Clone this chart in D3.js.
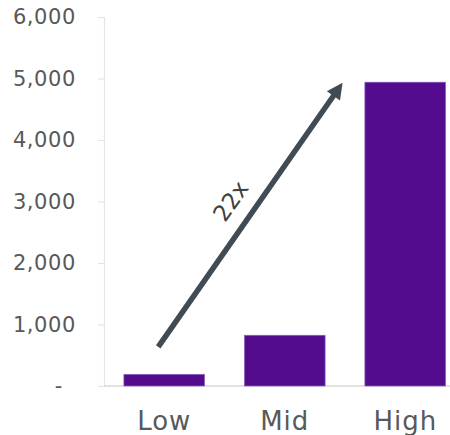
<!DOCTYPE html>
<html>
<head>
<meta charset="utf-8">
<script src="https://cdn.jsdelivr.net/npm/d3@7"></script>
<style>
  html, body { margin: 0; padding: 0; background: #fff; }
  svg { display: block; }
  text { font-family: "DejaVu Sans", sans-serif; }
</style>
</head>
<body>
<svg id="chart" width="450" height="435"></svg>
<script>
const categories = ["Low", "Mid", "High"];
const values = [190, 825, 4940];
const yTicks = [0, 1000, 2000, 3000, 4000, 5000, 6000];
const arrowIdx = [-0.05, 1.48];      // position in category units
const arrowVals = [635, 4930];       // arrow start / end on value axis
const arrowLabel = "22x";

const W = 450, H = 435;
const margin = { top: 17, left: 104, bottom: 49 };
const svg = d3.select("#chart");

const x = d3.scaleBand().domain(categories)
  .range([margin.left, margin.left + 3 * 120.5])
  .paddingInner(0.33).paddingOuter(0.165);
const y = d3.scaleLinear().domain([0, 6000]).range([H - margin.bottom, margin.top]);
const fmt = v => v === 0 ? "-" : d3.format(",")(v);

// y axis
const yAxis = svg.append("g")
  .attr("transform", `translate(${margin.left},0)`)
  .call(d3.axisLeft(y).tickValues(yTicks).tickFormat(fmt).tickSize(6).tickPadding(22));
yAxis.select(".domain").attr("stroke", "#e6e6e6").attr("stroke-width", 1.2);
yAxis.selectAll(".tick line").attr("stroke", "#e6e6e6").attr("stroke-width", 1.2);
yAxis.selectAll(".tick text").attr("fill", "#595959")
  .style("font-size", "21px").style("letter-spacing", "0.6px");
yAxis.selectAll(".tick text").filter(d => d === 0).attr("dx", "-13px");

// x axis
const xAxis = svg.append("g")
  .attr("transform", `translate(0,${y(0)})`)
  .call(d3.axisBottom(x).tickSize(0).tickPadding(25.5));
xAxis.select(".domain").attr("stroke", "#d9d9d9").attr("stroke-width", 1.5)
  .attr("d", `M${margin.left},0H${W}`);
xAxis.selectAll(".tick text").attr("fill", "#595959")
  .style("font-size", "26px").style("letter-spacing", "1px");

// bars
svg.append("g").selectAll("rect").data(values).join("rect")
  .attr("x", (d, i) => x(categories[i]))
  .attr("width", x.bandwidth())
  .attr("y", d => y(d))
  .attr("height", d => y(0) - y(d))
  .attr("fill", "#520c8d")
  .attr("stroke", "#8f63c4").attr("stroke-width", 0.7);

// arrow
const xi = d3.scaleLinear().domain([0, 1])
  .range([x(categories[0]) + x.bandwidth() / 2, x(categories[1]) + x.bandwidth() / 2]);
const x0 = xi(arrowIdx[0]), y0 = y(arrowVals[0]);
const x1 = xi(arrowIdx[1]), y1 = y(arrowVals[1]);
const ang = Math.atan2(y1 - y0, x1 - x0);
const headLen = 16, headW = 8;
const bx = x1 - headLen * Math.cos(ang), by = y1 - headLen * Math.sin(ang);
const arrowColor = "#414b55";
svg.append("line")
  .attr("x1", x0).attr("y1", y0).attr("x2", bx + 2 * Math.cos(ang)).attr("y2", by + 2 * Math.sin(ang))
  .attr("stroke", arrowColor).attr("stroke-width", 5.5);
const px = -Math.sin(ang), py = Math.cos(ang);
svg.append("path")
  .attr("d", `M${x1},${y1}L${bx + headW * px},${by + headW * py}L${bx - headW * px},${by - headW * py}Z`)
  .attr("fill", arrowColor);

// label
const t = 0.5;
const lx = x0 + (x1 - x0) * t, ly = y0 + (y1 - y0) * t;
svg.append("text")
  .attr("transform", `translate(${lx},${ly}) rotate(${ang * 180 / Math.PI})`)
  .attr("text-anchor", "middle")
  .attr("dy", "-16px")
  .attr("fill", "#404040")
  .style("font-size", "23px")
  .text(arrowLabel);
</script>
</body>
</html>
